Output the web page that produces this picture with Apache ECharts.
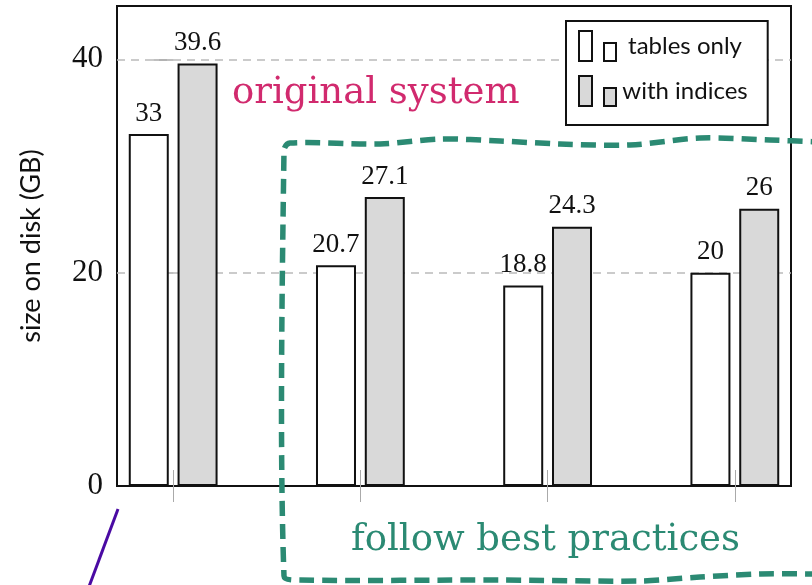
<!DOCTYPE html>
<html>
<head>
<meta charset="utf-8">
<script src="https://cdn.jsdelivr.net/npm/echarts@6/dist/echarts.min.js"></script>
<style>
  html, body { margin: 0; padding: 0; background: #fff; }
  #main { width: 812px; height: 585px; }
</style>
</head>
<body>
<div id="main"></div>
<script>
// 数据
var groups = [0, 1, 2, 3];
var tablesOnly = [33, 20.7, 18.8, 20];
var withIndices = [39.6, 27.1, 24.3, 26];
var yTicks = [0, 20, 40];

var serif = 'Liberation Serif';
var ink = '#111';
var tickGray = '#aaa';

function pairs(vals) {
    return groups.map(function (g, i) { return [g, vals[i]]; });
}

var legendIcon = 'path://M0,0h13v30h-13z M25,12h12v18h-12z';

var chart = echarts.init(document.getElementById('main'), null, { renderer: 'canvas' });
chart.setOption({
    animation: false,
    grid: {
        left: 117, right: 21, top: 6, bottom: 99,
        show: true, borderColor: ink, borderWidth: 2, backgroundColor: 'transparent'
    },
    legend: {
        left: 566, top: 21,
        orient: 'vertical',
        backgroundColor: '#fff',
        borderColor: ink, borderWidth: 2,
        padding: [9, 20, 18, 12],
        itemGap: 13,
        itemWidth: 37, itemHeight: 30,
        formatter: function (name) { return '{t|' + name + '}'; },
        textStyle: {
            rich: { t: { width: 128, align: 'center', fontFamily: 'Lato', fontSize: 24, color: ink } }
        },
        data: [
            { name: 'tables only', icon: legendIcon },
            { name: 'with indices', icon: legendIcon }
        ]
    },
    xAxis: [{
        type: 'value', min: -0.3, max: 3.3, position: 'bottom',
        axisLine: { show: false },
        axisLabel: { show: false },
        splitLine: { show: false },
        axisTick: { show: true, customValues: groups, length: 16, lineStyle: { color: tickGray, width: 1 } }
    }, {
        type: 'value', min: -0.3, max: 3.3, position: 'top',
        axisLine: { show: false },
        axisLabel: { show: false },
        splitLine: { show: false },
        axisTick: { show: true, customValues: groups, length: 16, lineStyle: { color: tickGray, width: 1 } }
    }],
    yAxis: [{
        type: 'value', min: 0, max: 45, interval: 20, position: 'left',
        name: 'size on disk (GB)',
        nameLocation: 'middle',
        nameGap: 72,
        nameRotate: 90,
        nameTextStyle: { fontFamily: 'Lato', fontSize: 27, color: ink },
        axisLine: { show: false },
        axisTick: { show: false },
        axisLabel: {
            customValues: yTicks,
            margin: 14, fontFamily: serif, fontSize: 31, color: ink
        },
        splitLine: {
            show: true, showMinLine: false, showMaxLine: false,
            lineStyle: { color: '#bbb', width: 1.5, type: [8, 6] }
        }
    }, {
        type: 'value', min: 0, max: 45, interval: 20, position: 'right',
        axisLine: { show: false },
        axisLabel: { show: false },
        splitLine: { show: false },
        axisTick: { show: true, inside: true, customValues: [20, 40], length: 20, lineStyle: { color: tickGray, width: 1.5 } }
    }],
    series: [{
        name: 'tables only',
        type: 'bar',
        data: pairs(tablesOnly),
        barWidth: 40,
        barGap: '22%',
        itemStyle: { color: '#fff', borderColor: ink, borderWidth: 2 },
        label: { show: true, position: 'top', distance: 7, fontFamily: serif, fontSize: 27, color: ink }
    }, {
        name: 'with indices',
        type: 'bar',
        data: pairs(withIndices),
        barWidth: 40,
        barGap: '22%',
        itemStyle: { color: '#d9d9d9', borderColor: ink, borderWidth: 2 },
        label: { show: true, position: 'top', distance: 7, fontFamily: serif, fontSize: 27, color: ink }
    }],
    graphic: [{
        type: 'text', x: 232, y: 93, z: 50,
        style: { text: 'original system', font: '37px "DejaVu Serif"', fill: '#d12a6e', verticalAlign: 'middle' }
    }, {
        type: 'text', x: 351, y: 540, z: 50,
        style: { text: 'follow best practices', font: '37px "DejaVu Serif"', fill: '#2b8a73', verticalAlign: 'middle' }
    }, {
        type: 'polyline', z: 40,
        shape: {
            smooth: 0.3,
            points: [
                [820, 574], [760, 574], [700, 577], [640, 581], [500, 580], [300, 580], [284, 576],
                [284, 150], [290, 143], [380, 144], [440, 139], [500, 141], [560, 144],
                [630, 145], [700, 138], [770, 140], [820, 142]
            ]
        },
        style: { fill: null, stroke: '#2b8a73', lineWidth: 5.5, lineDash: [15, 8] }
    }, {
        type: 'line', z: 40,
        shape: { x1: 118, y1: 509, x2: 87, y2: 592 },
        style: { stroke: '#4a0aa3', lineWidth: 3 }
    }]
});
</script>
</body>
</html>
